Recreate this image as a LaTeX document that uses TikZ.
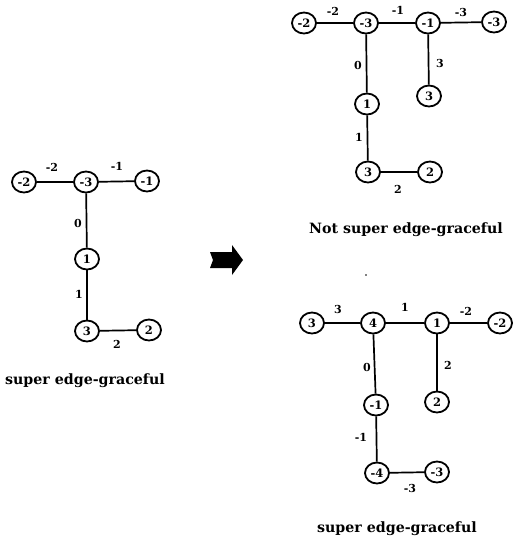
\documentclass[tikz,border=0pt]{standalone}
\usepackage{fontspec}
\setmainfont{DejaVu Serif}
\usetikzlibrary{shapes.geometric}
\begin{document}
\begin{tikzpicture}[x=1pt,y=-1pt,
  vtx/.style={draw, line width=1.8pt, ellipse, minimum width=24pt, minimum height=21pt,
              inner sep=0pt, font=\bfseries\fontsize{11.5}{11.5}\selectfont},
  lbl/.style={font=\bfseries\fontsize{11}{11}\selectfont, inner sep=0pt},
  captext/.style={font=\bfseries\fontsize{14.2}{14.2}\selectfont, inner sep=0pt},
  edge/.style={line width=1.7pt}]
\useasboundingbox (0,0) rectangle (515,542);

% ---- left tree ----
\node[vtx] (l1) at (24,182) {-2};
\node[vtx] (l2) at (86,182) {-3};
\node[vtx] (l3) at (147,181) {-1};
\node[vtx] (l4) at (87,259) {1};
\node[vtx] (l5) at (87,331) {3};
\node[vtx] (l6) at (149,330) {2};
\draw[edge] (l1) -- (l2);
\draw[edge] (l2) -- (l3);
\draw[edge] (l2) -- (l4);
\draw[edge] (l4) -- (l5);
\draw[edge] (l5) -- (l6);
\node[lbl] (le1) at (52,167) {-2};
\node[lbl] (le2) at (117,166) {-1};
\node[lbl] (le3) at (78,223) {0};
\node[lbl] (le4) at (79,294) {1};
\node[lbl] (le5) at (117,344) {2};
\node[captext] (lcap) at (85,381) {super edge-graceful};

% ---- block arrow ----
\fill (210,252) -- (232,252) -- (232,245) -- (243,260) -- (232,275) -- (232,268)
      -- (210,268) -- (213,260) -- cycle;

% ---- upper right tree ----
\node[vtx] (a1) at (304,23) {-2};
\node[vtx] (a2) at (366,23) {-3};
\node[vtx] (a3) at (428,23) {-1};
\node[vtx] (a4) at (494,22) {-3};
\node[vtx] (a5) at (367,104) {1};
\node[vtx] (a6) at (429,96) {3};
\node[vtx] (a7) at (368,172) {3};
\node[vtx] (a8) at (430,172) {2};
\draw[edge] (a1) -- (a2);
\draw[edge] (a2) -- (a3);
\draw[edge] (a3) -- (a4);
\draw[edge] (a2) -- (a5);
\draw[edge] (a3) -- (a6);
\draw[edge] (a5) -- (a7);
\draw[edge] (a7) -- (a8);
\node[lbl] (ae1) at (333,11) {-2};
\node[lbl] (ae2) at (398,10) {-1};
\node[lbl] (ae3) at (461,12) {-3};
\node[lbl] (ae4) at (358,65) {0};
\node[lbl] (ae5) at (440,63) {3};
\node[lbl] (ae6) at (359,137) {1};
\node[lbl] (ae7) at (398,189) {2};
\node[captext] (acap) at (406,230) {Not super edge-graceful};

\fill (366,275) circle (0.8);

% ---- lower right tree ----
\node[vtx] (b1) at (312,323) {3};
\node[vtx] (b2) at (373,323) {4};
\node[vtx] (b3) at (437,323) {1};
\node[vtx] (b4) at (500,323) {-2};
\node[vtx] (b5) at (376,405) {-1};
\node[vtx] (b6) at (437,402) {2};
\node[vtx] (b7) at (377,473) {-4};
\node[vtx] (b8) at (437,472) {-3};
\draw[edge] (b1) -- (b2);
\draw[edge] (b2) -- (b3);
\draw[edge] (b3) -- (b4);
\draw[edge] (b2) -- (b5);
\draw[edge] (b3) -- (b6);
\draw[edge] (b5) -- (b7);
\draw[edge] (b7) -- (b8);
\node[lbl] (be1) at (338,309) {3};
\node[lbl] (be2) at (405,307) {1};
\node[lbl] (be3) at (466,311) {-2};
\node[lbl] (be4) at (367,367) {0};
\node[lbl] (be5) at (448,365) {2};
\node[lbl] (be6) at (361,437) {-1};
\node[lbl] (be7) at (410,488) {-3};
\node[captext] (bcap) at (397,529) {super edge-graceful};
\end{tikzpicture}
\end{document}
